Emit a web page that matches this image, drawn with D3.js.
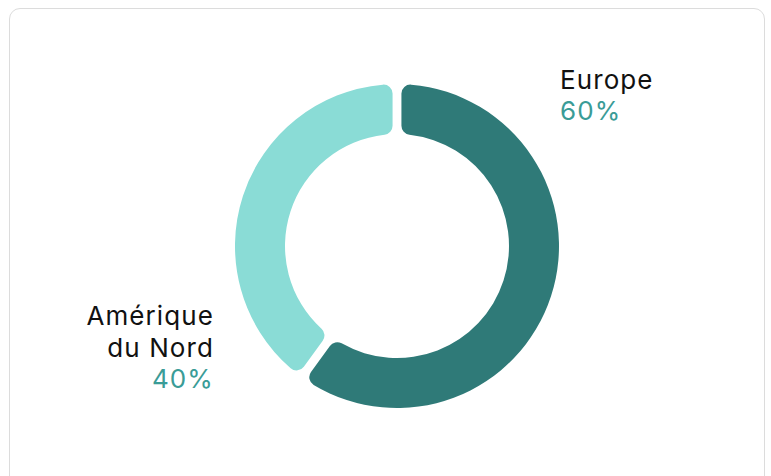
<!DOCTYPE html>
<html>
<head>
<meta charset="utf-8">
<script src="https://cdn.jsdelivr.net/npm/d3@7"></script>
<style>
  html, body { margin: 0; padding: 0; background: #fff; }
  body { width: 771px; height: 476px; overflow: hidden; font-family: Inter, "Noto Sans", sans-serif; }
  .card {
    position: absolute; left: 9px; top: 8px; width: 756px; height: 500px;
    border: 1.5px solid #dcdcdc; border-radius: 11px; box-sizing: border-box;
  }
  svg { position: absolute; left: 0; top: 0; }
</style>
</head>
<body>
<div class="card"></div>
<svg id="chart" width="771" height="476"></svg>
<script>
// data
const regions = ["Europe", "Amérique du Nord"];
const shares = [60, 40];
const colors = ["#2f7a78", "#8adcd6"];

const svg = d3.select("#chart");
const cx = 397, cy = 246;
const outerR = 162, innerR = 112;

const pie = d3.pie().sort(null).value(d => d.value);
const arcs = pie(regions.map((r, i) => ({ name: r, value: shares[i], color: colors[i] })));

const arc = d3.arc()
  .innerRadius(innerR)
  .outerRadius(outerR)
  .cornerRadius(9)
  .padAngle(0.045);

const g = svg.append("g").attr("transform", `translate(${cx},${cy})`);
g.selectAll("path")
  .data(arcs)
  .enter().append("path")
  .attr("d", arc)
  .attr("fill", d => d.data.color);

// labels - europe on top right, north america bottom left
const labelPos = [
  { x: 560, y: 89, anchor: "start" },
  { x: 214, y: 325, anchor: "end" }
];
const lineH = 32;

arcs.forEach((d, i) => {
  const p = labelPos[i];
  const t = svg.append("text")
    .attr("x", p.x).attr("y", p.y)
    .attr("text-anchor", p.anchor)
    .style("font-size", "26px")
    .style("letter-spacing", "1.1px");
  // split long names on two lines
  let lines = d.data.name.split(" ");
  if (lines.length > 1) lines = [lines[0], lines.slice(1).join(" ")];
  lines.forEach((l, j) => {
    t.append("tspan").attr("x", p.x).attr("dy", j ? lineH : 0).attr("fill", "#111").text(l);
  });
  t.append("tspan").attr("x", p.x).attr("dy", lineH - 1).attr("fill", "#3a9c97")
    .text(d.data.value + "%");
});
</script>
</body>
</html>
